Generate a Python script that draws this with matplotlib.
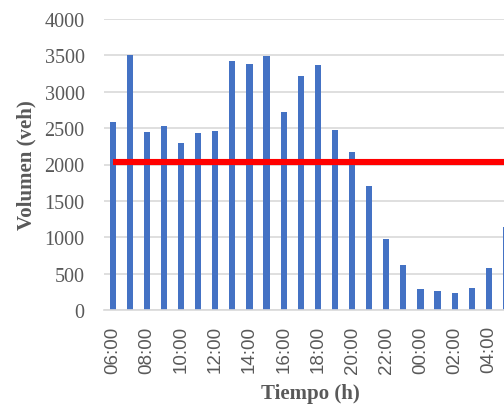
import matplotlib
matplotlib.use("Agg")
import matplotlib.pyplot as plt
import numpy as np

hours = ["06:00", "07:00", "08:00", "09:00", "10:00", "11:00", "12:00", "13:00",
         "14:00", "15:00", "16:00", "17:00", "18:00", "19:00", "20:00", "21:00",
         "22:00", "23:00", "00:00", "01:00", "02:00", "03:00", "04:00", "05:00"]
volumes = [2590, 3510, 2440, 2525, 2290, 2435, 2465, 3420, 3375, 3490, 2715, 3220,
           3370, 2480, 2175, 1710, 980, 620, 295, 260, 235, 305, 575, 1140]
threshold = [2030] * len(hours)

fig = plt.figure(figsize=(5.04, 4.10), dpi=100)
ax = fig.add_axes([104.1 / 504, 99 / 410, 410.4 / 504, 291 / 410])

x = np.arange(len(hours))
ax.bar(x, volumes, width=0.36, color="#4472C4", zorder=2)
ax.plot(x, threshold, color="#FF0000", linewidth=4.4, zorder=3, solid_capstyle="butt")

ax.set_xlim(-0.5, len(hours) - 0.5)
ax.set_ylim(0, 4000)
ax.set_yticks(np.arange(0, 4001, 500))
ax.set_xticks(x[::2])
ax.set_xticklabels(hours[::2], rotation=90, family="Liberation Sans", fontsize=13.5, color="#595959")
for lbl in ax.get_yticklabels():
    lbl.set_family("Liberation Serif")
    lbl.set_fontsize(14.5)
    lbl.set_color("#595959")

ax.grid(axis="y", color="#D9D9D9", linewidth=1.2, zorder=0)
for s in ["top", "right", "left"]:
    ax.spines[s].set_visible(False)
ax.spines["bottom"].set_color("#D9D9D9")
ax.spines["bottom"].set_linewidth(1.2)
ax.tick_params(axis="x", length=0, pad=11)
ax.tick_params(axis="y", length=0, pad=14)

ax.set_ylabel("Volumen (veh)", family="Liberation Serif", fontweight="bold",
              fontsize=15, color="#595959", labelpad=6)
ax.set_xlabel("Tiempo (h)", family="Liberation Serif", fontweight="bold",
              fontsize=15, color="#595959")
ax.xaxis.set_label_coords((310 - 104.1) / 410.4, -(384 - 311) / 291)

fig.savefig("out.png", dpi=100)
